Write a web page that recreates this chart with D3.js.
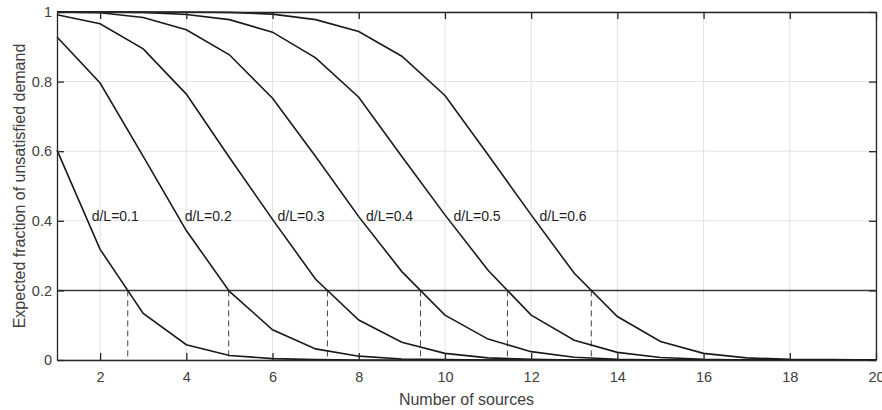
<!DOCTYPE html>
<html>
<head>
<meta charset="utf-8">
<script src="https://cdn.jsdelivr.net/npm/d3@7"></script>
<style>
  body { margin: 0; background: #fff; }
  svg { display: block; font-family: Arial, "Liberation Sans", sans-serif; }
</style>
</head>
<body>
<script>
// number of sources (x) and the six curves
var sources = [1, 2, 3, 4, 5, 6, 7, 8, 9, 10, 11, 12, 13, 14, 15, 16, 17, 18, 19, 20];
var ratios = ["0.1", "0.2", "0.3", "0.4", "0.5", "0.6"];
var frac01 = [0.603, 0.318, 0.134, 0.044, 0.013, 0.004, 0.001, 0, 0, 0, 0, 0, 0, 0, 0, 0, 0, 0, 0, 0];
var frac02 = [0.928, 0.796, 0.585, 0.372, 0.197, 0.087, 0.032, 0.011, 0.003, 0.001, 0, 0, 0, 0, 0, 0, 0, 0, 0, 0];
var frac03 = [0.992, 0.966, 0.894, 0.764, 0.582, 0.404, 0.232, 0.115, 0.051, 0.019, 0.006, 0.002, 0, 0, 0, 0, 0, 0, 0, 0];
var frac04 = [1, 0.998, 0.984, 0.949, 0.877, 0.752, 0.585, 0.412, 0.254, 0.129, 0.06, 0.024, 0.008, 0.002, 0, 0, 0, 0, 0, 0];
var frac05 = [1, 1, 0.999, 0.993, 0.978, 0.942, 0.868, 0.755, 0.585, 0.417, 0.258, 0.129, 0.057, 0.022, 0.007, 0.002, 0, 0, 0, 0];
var frac06 = [1, 1, 1, 1, 0.999, 0.994, 0.978, 0.944, 0.873, 0.76, 0.59, 0.417, 0.249, 0.125, 0.053, 0.019, 0.006, 0.002, 0.001, 0];
var series = [frac01, frac02, frac03, frac04, frac05, frac06];
var threshold = 0.2;
var labelLevel = 0.4;

var xTicks = [2, 4, 6, 8, 10, 12, 14, 16, 18, 20];
var yTicks = [0, 0.2, 0.4, 0.6, 0.8, 1];
var yTickLabels = ["0", "0.2", "0.4", "0.6", "0.8", "1"];

var totalWidth = 882;
var totalHeight = 410;
var paddingLeft = 57;
var paddingTop = 12;
var paddingRight = 6;
var paddingBottom = 50;
var width = totalWidth - paddingLeft - paddingRight;
var height = totalHeight - paddingTop - paddingBottom;

var svg = d3.select("body").append("svg")
  .attr("width", totalWidth)
  .attr("height", totalHeight);

var plot = svg.append("g")
  .attr("transform", "translate(" + paddingLeft + "," + paddingTop + ")");

var xScale = d3.scaleLinear().domain([1, 20]).range([0, width]);
var yScale = d3.scaleLinear().domain([0, 1]).range([height, 0]);

// grid
plot.append("g").selectAll("line")
  .data(xTicks)
  .enter().append("line")
    .attr("x1", d => xScale(d)).attr("x2", d => xScale(d))
    .attr("y1", 0).attr("y2", height)
    .attr("stroke", "#e3e3e3").attr("stroke-width", 1);
plot.append("g").selectAll("line")
  .data(yTicks)
  .enter().append("line")
    .attr("x1", 0).attr("x2", width)
    .attr("y1", d => yScale(d)).attr("y2", d => yScale(d))
    .attr("stroke", "#e3e3e3").attr("stroke-width", 1);

// find where a curve drops through a given level
function crossing(vals, level) {
  for (var i = 0; i < vals.length - 1; i++) {
    if (vals[i] >= level && vals[i + 1] < level) {
      return sources[i] + (vals[i] - level) / (vals[i] - vals[i + 1]) * (sources[i + 1] - sources[i]);
    }
  }
  return null;
}

// threshold line
plot.append("line")
  .attr("x1", xScale(1)).attr("x2", xScale(20))
  .attr("y1", yScale(threshold)).attr("y2", yScale(threshold))
  .attr("stroke", "#3a3a3a").attr("stroke-width", 1.5);

// dashed drops to the x axis
plot.append("g").selectAll("line")
  .data(series)
  .enter().append("line")
    .attr("x1", d => xScale(crossing(d, threshold)))
    .attr("x2", d => xScale(crossing(d, threshold)))
    .attr("y1", yScale(threshold))
    .attr("y2", yScale(0))
    .attr("stroke", "#444")
    .attr("stroke-width", 1)
    .attr("stroke-dasharray", "6,4");

var line = d3.line()
  .x((d, i) => xScale(sources[i]))
  .y(d => yScale(d));

plot.append("g").selectAll("path")
  .data(series)
  .enter().append("path")
    .attr("d", line)
    .attr("fill", "none")
    .attr("stroke", "#1a1a1a")
    .attr("stroke-width", 1.6);

// curve labels
plot.append("g").selectAll("text")
  .data(series)
  .enter().append("text")
    .attr("x", d => xScale(crossing(d, labelLevel)) + 4)
    .attr("y", yScale(labelLevel))
    .attr("font-size", "14px")
    .attr("fill", "#1e1e1e")
    .text((d, i) => "d/L=" + ratios[i]);

// axes, MATLAB style box with inward ticks
var xAxis = d3.axisBottom(xScale).tickValues(xTicks).tickFormat(d3.format("d"))
  .tickSizeInner(-7).tickSizeOuter(0).tickPadding(12);
var yAxis = d3.axisLeft(yScale).tickValues(yTicks).tickFormat((d, i) => yTickLabels[i])
  .tickSizeInner(-7).tickSizeOuter(0).tickPadding(5);
var xAxisTop = d3.axisTop(xScale).tickValues(xTicks).tickFormat("")
  .tickSizeInner(-7).tickSizeOuter(0);
var yAxisRight = d3.axisRight(yScale).tickValues(yTicks).tickFormat("")
  .tickSizeInner(-7).tickSizeOuter(0);

var gx = plot.append("g").attr("transform", "translate(0," + height + ")").call(xAxis);
var gy = plot.append("g").call(yAxis);
var gt = plot.append("g").call(xAxisTop);
var gr = plot.append("g").attr("transform", "translate(" + width + ",0)").call(yAxisRight);

[gx, gy, gt, gr].forEach(function(g) {
  g.select(".domain").attr("stroke", "#262626").attr("stroke-width", 1.3);
  g.selectAll(".tick line").attr("stroke", "#262626").attr("stroke-width", 1.3);
  g.selectAll(".tick text")
    .attr("font-size", "14.5px")
    .attr("font-family", "Arial, 'Liberation Sans', sans-serif")
    .attr("fill", "#404040");
});

// axis titles
svg.append("text")
  .attr("x", paddingLeft + width / 2)
  .attr("y", 405)
  .attr("text-anchor", "middle")
  .attr("font-size", "16px")
  .attr("fill", "#404040")
  .text("Number of sources");

svg.append("text")
  .attr("transform", "translate(25," + (paddingTop + height / 2) + ") rotate(-90)")
  .attr("text-anchor", "middle")
  .attr("font-size", "16px")
  .attr("fill", "#404040")
  .text("Expected fraction of unsatisfied demand");
</script>
</body>
</html>
